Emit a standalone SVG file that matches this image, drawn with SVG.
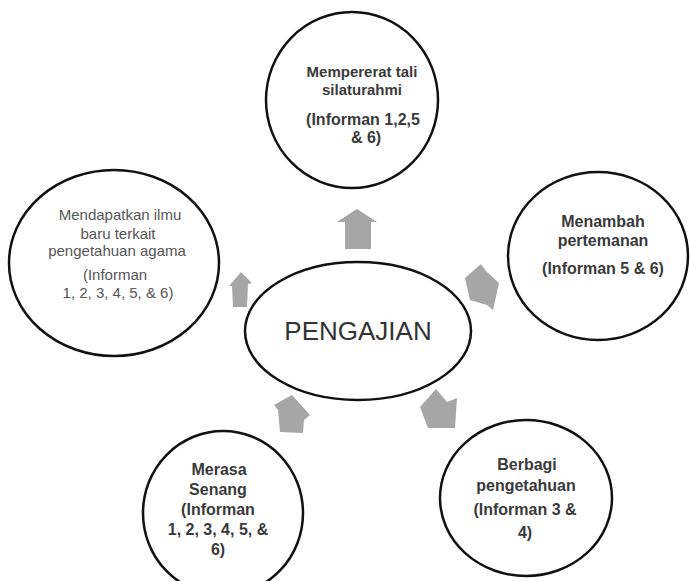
<svg xmlns="http://www.w3.org/2000/svg" width="690" height="581" viewBox="0 0 690 581">
<style>
.n{fill:#fff;stroke:#111;stroke-width:2.5}
.a{fill:#a6a6a6;stroke:none}
text{font-family:"Liberation Sans",Arial,sans-serif;text-anchor:middle}
.b{font-weight:bold;fill:#3a3a3a;font-size:16px}
.r{fill:#555;font-size:15px}
</style>
<rect width="690" height="581" fill="#fff"/>
<g id="connectors">
<polygon class="a" points="357,209 377,222 371,222 371,249 345,249 345,222 337,222"/>
<polygon class="a" points="241,272 252,283 248,284 247,307 233,307 232,286 229,286"/>
<polygon class="a" points="481,264 486,271 499,283 493,310 487,305 470,300 465,278"/>
<polygon class="a" points="436,389 447,402 457,398 455,428 428,428 420,407"/>
<polygon class="a" points="292,395 310,415 304,420 303,433 280,432 278,410 274,405"/>
</g>
<g id="top">
<ellipse class="n" cx="352" cy="100" rx="86" ry="88"/>
<text class="b" x="362" y="77" style="font-size:15px">Mempererat tali</text>
<text class="b" x="362" y="95" style="font-size:15px">silaturahmi</text>
<text class="b" x="363" y="125">(Informan  1,2,5</text>
<text class="b" x="366" y="143">&amp; 6)</text>
</g>
<g id="left">
<ellipse class="n" cx="114" cy="263" rx="105" ry="93"/>
<text class="r" x="120" y="220">Mendapatkan ilmu</text>
<text class="r" x="118" y="239">baru terkait</text>
<text class="r" x="117" y="256">pengetahuan agama</text>
<text class="r" x="115" y="280">(Informan</text>
<text class="r" x="118" y="298">1, 2, 3, 4, 5, &amp; 6)</text>
</g>
<g id="right">
<ellipse class="n" cx="598" cy="256" rx="90" ry="84"/>
<text class="b" x="603" y="227">Menambah</text>
<text class="b" x="603" y="246">pertemanan</text>
<text class="b" x="603" y="274">(Informan 5 &amp; 6)</text>
</g>
<g id="center">
<ellipse class="n" cx="358" cy="331" rx="113" ry="69"/>
<text x="358" y="340" style="font-size:26px;fill:#333">PENGAJIAN</text>
</g>
<g id="bottom-left">
<ellipse class="n" cx="223" cy="513" rx="80" ry="82"/>
<text class="b" x="219" y="475">Merasa</text>
<text class="b" x="218" y="495">Senang</text>
<text class="b" x="218" y="515">(Informan</text>
<text class="b" x="218" y="535">1, 2, 3, 4, 5, &amp;</text>
<text class="b" x="218" y="555">6)</text>
</g>
<g id="bottom-right">
<ellipse class="n" cx="526" cy="498" rx="86" ry="78"/>
<text class="b" x="527" y="470">Berbagi</text>
<text class="b" x="526" y="491">pengetahuan</text>
<text class="b" x="525" y="515">(Informan 3 &amp;</text>
<text class="b" x="525" y="538">4)</text>
</g>
</svg>
